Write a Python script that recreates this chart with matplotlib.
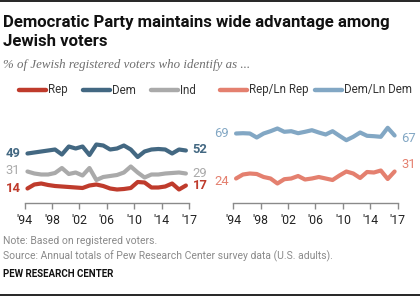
import matplotlib
matplotlib.use("Agg")
import matplotlib.pyplot as plt
from matplotlib.lines import Line2D
import numpy as np

years = list(range(1994, 2018))
tick_labels = ["'94", "'98", "'02", "'06", "'10", "'14", "'17"]

rep = [14, 18, 19, 17.5, 16.5, 16, 15.5, 15, 14.5, 17, 18, 16.5, 14, 13, 13.5,
       14.5, 20.5, 20, 15, 15, 16, 19, 13, 17]
dem = [49, 50, 51, 52, 53, 48, 56, 54, 56, 47.5, 58, 57, 53, 54, 57, 53, 45.5,
       51, 53, 53.5, 53, 49, 53, 52]
ind = [31, 29, 28, 28, 29.5, 34.5, 28.5, 30, 27, 34.5, 22.5, 25.5, 26.5, 27.5,
       30, 36, 30, 25, 28, 28, 29, 29.5, 30, 29]
rep_ln = [24, 28, 29, 28.5, 25.5, 24, 19, 23.3, 24, 26.5, 23, 24, 25.5, 24, 22.5,
          27, 31, 29, 24.5, 30.5, 30, 32, 23.5, 31]
dem_ln = [69, 69.3, 69, 65, 69, 71.3, 74, 70.7, 71.3, 69.3, 70.7, 72.3, 70, 68,
          71.3, 66.7, 62.3, 65.7, 70, 66.7, 66.3, 65.7, 74.7, 67]

C_REP = "#BF3B2C"
C_DEM = "#436882"
C_IND = "#AAAAAA"
C_REPLN = "#E4806F"
C_DEMLN = "#82A7C4"

W, H = 420, 296
fig = plt.figure(figsize=(W / 100, H / 100), dpi=100)

def fx(px):
    return px / W

def fy(py):
    return 1 - py / H

TITLE_FONT = ["Roboto", "DejaVu Sans"]
SANS = ["Roboto", "DejaVu Sans"]

# top & bottom rules
fig.add_artist(Line2D([0, 1], [fy(1), fy(1)], color="black", lw=1.2))
fig.add_artist(Line2D([0, 1], [fy(294.5), fy(294.5)], color="black", lw=1.2))

fig.text(fx(3), fy(22), "Democratic Party maintains wide advantage among",
         fontsize=12.1, fontweight="bold", family=TITLE_FONT, va="center",
         ha="left", color="#111111")
fig.text(fx(3), fy(42), "Jewish voters", fontsize=12.1, fontweight="bold",
         family=TITLE_FONT, va="center", ha="left", color="#111111")
fig.text(fx(3), fy(65), "% of Jewish registered voters who identify as ...",
         fontsize=9.3, style="italic", family=["Liberation Serif", "DejaVu Serif"],
         va="center", ha="left", color="#6d6d6d")

# legend
legend_items = [("Rep", C_REP, 19), ("Dem", C_DEM, 83), ("Ind", C_IND, 151),
                ("Rep/Ln Rep", C_REPLN, 220), ("Dem/Ln Dem", C_DEMLN, 315)]
for lab, col, x0 in legend_items:
    fig.add_artist(Line2D([fx(x0), fx(x0 + 27)], [fy(90), fy(90)], color=col,
                          lw=3.2, solid_capstyle="round"))
    fig.text(fx(x0 + 29), fy(90), lab, fontsize=8.3, family=SANS, va="center",
             ha="left", color="#333333")

bottom = fy(202.5)
height = 80 / H
ax1 = fig.add_axes([fx(24.7), bottom, fx(189) - fx(24.7), height])
ax2 = fig.add_axes([fx(233.3), bottom, fx(397.7) - fx(233.3), height])

XMIN, XMAX = 1993.6, 2017.45
for ax in (ax1, ax2):
    ax.set_xlim(XMIN, XMAX)
    ax.set_ylim(0, 80)
    for s in ("top", "right", "left"):
        ax.spines[s].set_visible(False)
    ax.spines["bottom"].set_color("#8a8a8a")
    ax.spines["bottom"].set_linewidth(1)
    ax.set_yticks([])
    ax.set_xticks(np.linspace(XMIN, XMAX, len(tick_labels)))
    ax.set_xticklabels(tick_labels, fontsize=8.8, family=SANS, color="#222222")
    ax.tick_params(axis="x", length=4, width=1, color="#8a8a8a", pad=4)
    ax.patch.set_alpha(0)

lw = 3.0
ax1.plot(years, dem, color=C_DEM, lw=lw, solid_joinstyle="round", solid_capstyle="round")
ax1.plot(years, ind, color=C_IND, lw=lw, solid_joinstyle="round", solid_capstyle="round")
ax1.plot(years, rep, color=C_REP, lw=lw, solid_joinstyle="round", solid_capstyle="round")
ax2.plot(years, dem_ln, color=C_DEMLN, lw=lw, solid_joinstyle="round", solid_capstyle="round")
ax2.plot(years, rep_ln, color=C_REPLN, lw=lw, solid_joinstyle="round", solid_capstyle="round")

def end_labels(ax, series, col, bold, dy_start=0, dy_end=0):
    kw = dict(fontsize=9.4, family=SANS, color=col, va="center",
              fontweight="bold" if bold else "normal", clip_on=False)
    ax.annotate(f"{series[0]:g}", (years[0], series[0]), xytext=(-5, dy_start),
                textcoords="offset points", ha="right", **kw)
    ax.annotate(f"{series[-1]:g}", (years[-1], series[-1]), xytext=(5, dy_end),
                textcoords="offset points", ha="left", **kw)

end_labels(ax1, dem, C_DEM, True, 0, 1)
end_labels(ax1, ind, C_IND, False, 1, 0)
end_labels(ax1, rep, C_REP, True, 0, 0)
end_labels(ax2, dem_ln, C_DEMLN, False, 0, -2)
end_labels(ax2, rep_ln, C_REPLN, False, -2, 5)

fig.text(fx(3), fy(241), "Note: Based on registered voters.", fontsize=7.5,
         family=SANS, color="#8a8a8a", va="center", ha="left")
fig.text(fx(3), fy(256), "Source: Annual totals of Pew Research Center survey data (U.S. adults).",
         fontsize=7.5, family=SANS, color="#8a8a8a", va="center", ha="left")
fig.text(fx(3), fy(274), "PEW RESEARCH CENTER", fontsize=7, fontweight="bold",
         family=SANS, color="#111111", va="center", ha="left")

fig.savefig("out.png", dpi=100)
